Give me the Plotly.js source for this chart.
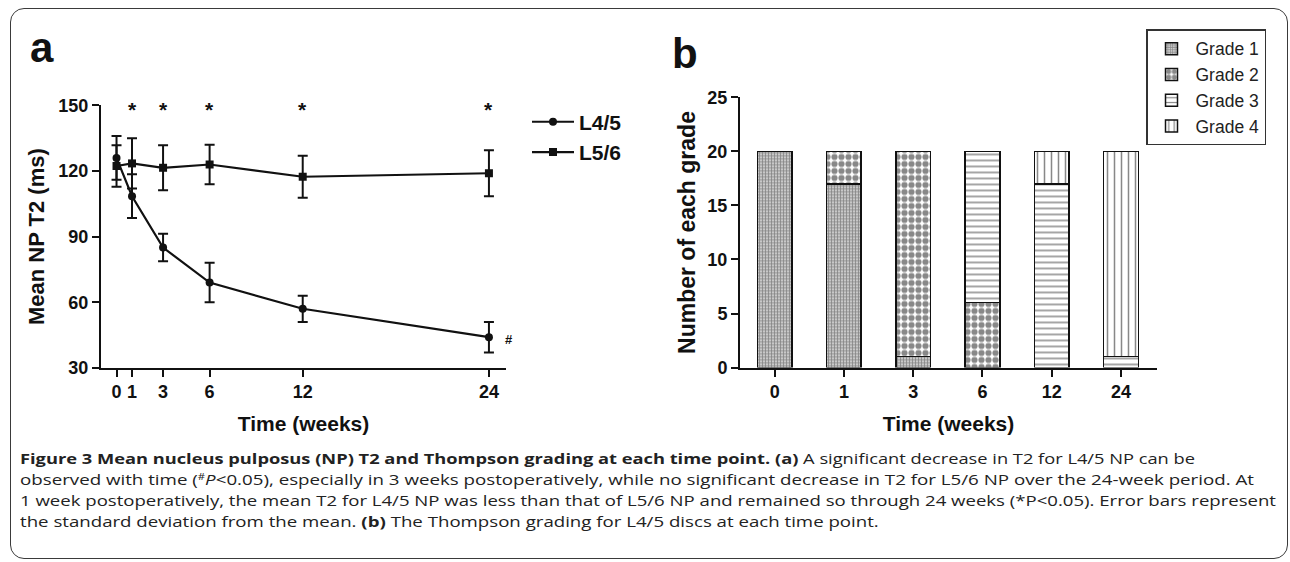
<!DOCTYPE html>
<html>
<head>
<meta charset="utf-8">
<script src="https://cdn.plot.ly/plotly-3.0.1.min.js"></script>
<style>
  html, body { margin: 0; padding: 0; background: #fff; overflow: hidden; }
  #wrap { position: relative; width: 1290px; height: 562px; }
  #plot { position: absolute; left: 0; top: 0; width: 1290px; height: 562px; }
  #frame { position: absolute; left: 10px; top: 8px; width: 1278px; height: 551px;
           border: 1.5px solid #3a3a3a; border-radius: 14px; box-sizing: border-box; pointer-events: none; }
  #caption { position: absolute; left: 20px; top: 447.5px; font-family: "Open Sans", "Noto Sans", sans-serif;
             font-size: 15px; color: #222; }
  #caption .ln { white-space: nowrap; height: 21px; line-height: 21px; transform-origin: 0 50%; }
  #caption .ln > span.t { display: inline-block; line-height: 21px; }
  #caption .hash { font-size: 9px; position: relative; top: -5px; }
</style>
</head>
<body>
<div id="wrap">
  <div id="plot"></div>
  <div id="frame"></div>
  <div id="caption">
    <div class="ln"><span class="t"><b>Figure 3 Mean nucleus pulposus (NP) T2 and Thompson grading at each time point. (a)</b> A significant decrease in T2 for L4/5 NP can be</span></div>
    <div class="ln"><span class="t">observed with time (<span class="hash">#</span><i>P</i>&lt;0.05), especially in 3 weeks postoperatively, while no significant decrease in T2 for L5/6 NP over the 24-week period. At</span></div>
    <div class="ln"><span class="t">1 week postoperatively, the mean T2 for L4/5 NP was less than that of L5/6 NP and remained so through 24 weeks (*P&lt;0.05). Error bars represent</span></div>
    <div class="ln"><span class="t">the standard deviation from the mean. <b>(b)</b> The Thompson grading for L4/5 discs at each time point.</span></div>
  </div>
</div>
<script>
// ---------- data (panel a) ----------
const weeks = [0, 1, 3, 6, 12, 24];
const l45Mean = [126, 108.5, 85, 69, 57, 44];
const l45SD   = [10, 10, 6.3, 9, 6, 7];
const l56Mean = [122.3, 123.5, 121.5, 123, 117.4, 119];
const l56SD   = [9.5, 11.5, 10.3, 9, 9.6, 10.5];
const sigWeeks = [1, 3, 6, 12, 24];   // '*' P<0.05 between groups
const yTicksA = [30, 60, 90, 120, 150];

// ---------- data (panel b) ----------
const weekLabels = ['0', '1', '3', '6', '12', '24'];
const grade1 = [20, 17, 1, 0, 0, 0];
const grade2 = [0, 3, 19, 6, 0, 0];
const grade3 = [0, 0, 0, 14, 17, 1];
const grade4 = [0, 0, 0, 0, 3, 19];
const gradeNames = ['Grade 1', 'Grade 2', 'Grade 3', 'Grade 4'];
const yTicksB = [0, 5, 10, 15, 20, 25];

// ---------- helpers ----------
const W = 1290, H = 562;
const px = x => x / W;
const py = y => 1 - y / H;
const INK = '#111';
const FONT = '"Liberation Sans", Arial, Helvetica, sans-serif';
const nz = arr => arr.map(v => (v === 0 ? null : v));

const lineTrace = (name, mean, sd, symbol, grp) => ({
  type: 'scatter', mode: 'lines+markers', name: '<b>' + name + '</b>',
  x: weeks, y: mean, xaxis: 'x', yaxis: 'y', legend: 'legend', legendgroup: grp,
  line: { color: INK, width: 2.2 },
  marker: { symbol: symbol, size: 8, color: INK },
  error_y: { type: 'data', array: sd, visible: true, color: INK, thickness: 2, width: 5 },
  cliponaxis: false
});

const patterns = [
  { shape: '.', size: 3, solidity: 0.7 },
  { shape: '.', size: 7, solidity: 0.62 },
  { shape: '-', size: 6, solidity: 0.25 },
  { shape: '|', size: 7, solidity: 0.22 }
];
const gradeData = [grade1, grade2, grade3, grade4];

const barTraces = gradeData.map((g, i) => ({
  type: 'bar', name: gradeNames[i], x: weekLabels, y: nz(g),
  xaxis: 'x2', yaxis: 'y2', legend: 'legend2', width: 0.5,
  marker: { color: '#fff', line: { color: INK, width: 1.5 },
            pattern: Object.assign({ fgcolor: INK, bgcolor: '#fff', fillmode: 'overlay' }, patterns[i]) }
}));

const data = [
  lineTrace('L4/5', l45Mean, l45SD, 'circle', 'g1'),
  lineTrace('L5/6', l56Mean, l56SD, 'square', 'g2'),
  ...barTraces
];

const axisCommon = {
  showline: true, linewidth: 2, linecolor: INK, mirror: false,
  showgrid: false, zeroline: false,
  ticks: 'outside', ticklen: 7, tickwidth: 2, tickcolor: INK,
  tickfont: { family: FONT, size: 18, color: INK, weight: 'bold' },
  automargin: true, fixedrange: true
};

const annotations = [
  { xref: 'paper', yref: 'paper', x: px(41.5), y: py(45), xanchor: 'center', yanchor: 'middle',
    text: '<b>a</b>', showarrow: false, yshift: 6, font: { family: FONT, size: 42, color: INK } },
  { xref: 'paper', yref: 'paper', x: px(685), y: py(48), xanchor: 'center', yanchor: 'middle',
    text: '<b>b</b>', showarrow: false, yshift: 3, font: { family: FONT, size: 42, color: INK } },
  ...sigWeeks.map(w => ({ xref: 'x', yref: 'y', x: w, y: 148.3, text: '<b>*</b>', showarrow: false,
    xanchor: 'center', yanchor: 'middle', font: { family: FONT, size: 21, color: INK } })),
  { xref: 'x', yref: 'y', x: weeks[weeks.length - 1], y: l45Mean[l45Mean.length - 1], text: '<b>#</b>',
    showarrow: false, xshift: 20, yshift: -2, font: { family: FONT, size: 13, color: INK } }
];

const layout = {
  width: W, height: H,
  margin: { l: 0, r: 0, t: 0, b: 0 },
  paper_bgcolor: '#fff', plot_bgcolor: 'rgba(0,0,0,0)',
  showlegend: true, barmode: 'stack',
  font: { family: FONT, color: INK },
  xaxis: Object.assign({}, axisCommon, {
    domain: [px(101), px(506)], range: [-1, 25.1], anchor: 'y',
    tickmode: 'array', tickvals: weeks, ticktext: weeks.map(String),
    title: { text: '<b>Time (weeks)</b>', font: { family: FONT, size: 21, color: INK }, standoff: 15 }
  }),
  yaxis: Object.assign({}, axisCommon, {
    domain: [py(371), py(99)], range: [30, 150], anchor: 'x',
    tickmode: 'array', tickvals: yTicksA,
    title: { text: '<b>Mean NP T2 (ms)</b>', font: { family: FONT, size: 22, color: INK }, standoff: 8 }
  }),
  xaxis2: Object.assign({}, axisCommon, {
    domain: [px(740), px(1157)], type: 'category', range: [-0.5, 5.52], anchor: 'y2',
    title: { text: '<b>Time (weeks)</b>', font: { family: FONT, size: 21, color: INK }, standoff: 15 }
  }),
  yaxis2: Object.assign({}, axisCommon, {
    domain: [py(370.7), py(90.7)], range: [0, 25], anchor: 'x2',
    tickmode: 'array', tickvals: yTicksB,
    title: { text: '<b>Number of each grade</b>', font: { family: FONT, size: 23, color: INK }, standoff: 5 }
  }),
  legend: {
    x: px(527), y: py(95), xanchor: 'left', yanchor: 'top',
    bgcolor: 'rgba(0,0,0,0)', borderwidth: 0, itemwidth: 42,
    traceorder: 'grouped', tracegroupgap: 0,
    font: { family: FONT, size: 21, color: INK }
  },
  legend2: {
    x: px(1146), y: py(20), xanchor: 'left', yanchor: 'top',
    bgcolor: '#fff', bordercolor: '#333', borderwidth: 1.5, itemwidth: 38,
    traceorder: 'normal',
    font: { family: FONT, size: 17.5, color: '#222' }
  },
  annotations: annotations
};

Plotly.newPlot('plot', data, layout, { displayModeBar: false, staticPlot: true });

// fit each caption line to the reference line end (x in px)
const lineEnds = [1195, 1254, 1276, null];
function fitCaption() {
  const spans = document.querySelectorAll('#caption .ln > span.t');
  const scales = [];
  spans.forEach((s, i) => {
    if (lineEnds[i] === null) return;
    const w = s.getBoundingClientRect().width;
    scales[i] = (lineEnds[i] - 20) / w;
  });
  const avg = (scales[1] + scales[2]) / 2;
  spans.forEach((s, i) => {
    const k = lineEnds[i] === null ? avg : scales[i];
    s.parentNode.style.transform = 'scaleX(' + k + ')';
  });
}
if (document.fonts && document.fonts.ready) { document.fonts.ready.then(fitCaption); } else { fitCaption(); }
</script>
</body>
</html>
